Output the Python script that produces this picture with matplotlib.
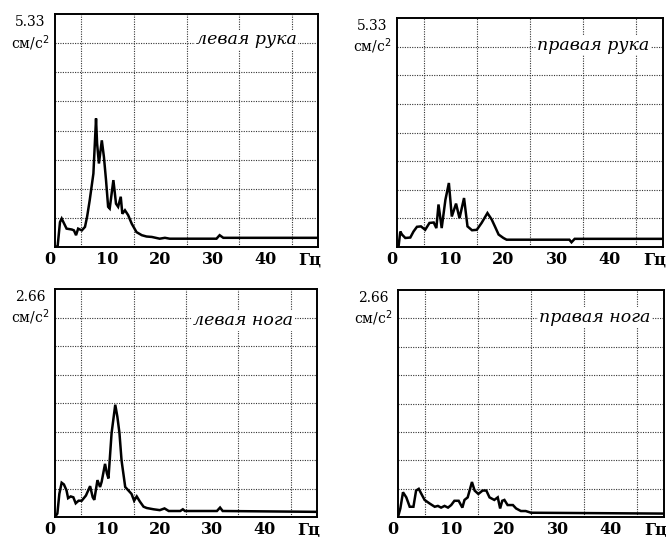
"""
Спектры тремора: левая/правая рука и нога.
"""
import matplotlib
matplotlib.use("Agg")
import matplotlib.pyplot as plt
import numpy as np

# --- данные (Гц, см/с^2) ---
left_arm_f = [0, 0.5, 0.95, 1.27, 2.2, 3.2, 3.6, 4.0, 4.4, 5.1, 5.7, 6.1, 6.6, 7.3, 7.8,
              8.0, 8.35, 8.9, 9.3, 9.7, 10.1, 10.4, 11.1, 11.6, 12.0, 12.5, 12.8, 13.3,
              13.9, 14.6, 15.5, 16.5, 17.4, 18.4, 19.9, 20.9, 21.8, 30.7, 31.3, 32.0, 50]
left_arm_a = [0.0, 0.02, 0.57, 0.65, 0.42, 0.40, 0.38, 0.27, 0.42, 0.38, 0.46, 0.69, 1.07,
              1.68, 2.94, 2.37, 1.91, 2.44, 2.06, 1.53, 0.92, 0.88, 1.53, 0.99, 0.92, 1.15,
              0.76, 0.84, 0.73, 0.53, 0.34, 0.27, 0.24, 0.23, 0.19, 0.21, 0.19, 0.19, 0.27,
              0.21, 0.21]

right_arm_f = [0, 0.3, 0.62, 0.94, 1.56, 2.5, 3.1, 3.75, 4.5, 5.3, 6.1, 6.9, 7.4, 7.8,
               8.4, 9.1, 9.75, 10.3, 11.1, 11.75, 12.6, 13.25, 14.1, 15.0, 15.9, 17.0,
               17.8, 18.4, 19.1, 20.0, 20.6, 32.4, 32.8, 33.4, 50]
right_arm_a = [0.0, 0.02, 0.36, 0.29, 0.21, 0.22, 0.36, 0.47, 0.48, 0.40, 0.56, 0.57, 0.44,
               0.99, 0.44, 1.10, 1.49, 0.71, 1.01, 0.67, 1.14, 0.48, 0.39, 0.40, 0.56, 0.79,
               0.64, 0.48, 0.29, 0.21, 0.17, 0.17, 0.11, 0.19, 0.19]

left_leg_f = [0, 0.45, 0.83, 1.27, 1.7, 2.2, 2.5, 3.0, 3.5, 3.95, 4.5, 5.1, 5.9, 6.7, 7.2,
              7.5, 8.1, 8.6, 8.9, 9.55, 9.9, 10.2, 10.8, 11.5, 11.9, 12.3, 12.7, 13.4,
              14.0, 14.6, 15.1, 15.6, 16.2, 16.9, 17.5, 18.8, 20.0, 20.9, 21.7, 23.9,
              24.4, 24.8, 30.9, 31.5, 32.0, 50]
left_leg_a = [0.0, 0.04, 0.27, 0.40, 0.38, 0.31, 0.22, 0.24, 0.23, 0.16, 0.19, 0.19, 0.25,
              0.36, 0.23, 0.20, 0.43, 0.35, 0.41, 0.62, 0.51, 0.45, 0.98, 1.31, 1.17, 0.98,
              0.66, 0.35, 0.31, 0.27, 0.19, 0.24, 0.18, 0.12, 0.105, 0.09, 0.08, 0.10, 0.07,
              0.07, 0.09, 0.07, 0.07, 0.11, 0.07, 0.06]

right_leg_f = [0, 0.44, 0.94, 1.56, 2.2, 2.9, 3.4, 3.9, 4.4, 5.0, 5.9, 6.9, 7.5, 8.1, 8.75,
               9.4, 10.0, 10.6, 11.4, 12.1, 12.5, 13.1, 13.9, 14.4, 15.1, 15.9, 16.6, 17.2,
               18.1, 18.75, 19.2, 19.6, 20.0, 20.6, 21.6, 22.2, 23.1, 24.0, 25.0, 50]
right_leg_a = [0.0, 0.10, 0.29, 0.23, 0.12, 0.12, 0.31, 0.33, 0.27, 0.20, 0.16, 0.12, 0.13,
               0.11, 0.13, 0.11, 0.14, 0.19, 0.19, 0.11, 0.20, 0.23, 0.41, 0.31, 0.27, 0.31,
               0.31, 0.23, 0.20, 0.23, 0.10, 0.19, 0.20, 0.14, 0.14, 0.10, 0.07, 0.07, 0.05,
               0.04]

titles = ["левая рука", "правая рука", "левая нога", "правая нога"]
y_max = ["5.33", "5.33", "2.66", "2.66"]
unit = "см/с$^2$"
x_ticks = [0, 10, 20, 30, 40]
x_unit = "Гц"

W, H = 666, 537
# рамки панелей в пикселях: left, top, right, bottom
boxes = [(55, 14, 318, 247), (397, 18, 663, 247), (55, 289, 317, 517), (398, 290, 664, 517)]
title_x = [0.92, 0.95, 0.91, 0.95]
title_y = [0.89, 0.88, 0.86, 0.88]

series = [(left_arm_f, left_arm_a), (right_arm_f, right_arm_a),
          (left_leg_f, left_leg_a), (right_leg_f, right_leg_a)]

fig = plt.figure(figsize=(W / 100, H / 100), dpi=100)
serif = "DejaVu Serif"

for i, ((f, a), (l, t, r, b)) in enumerate(zip(series, boxes)):
    ax = fig.add_axes([l / W, 1 - b / H, (r - l) / W, (b - t) / H])
    ymax = float(y_max[i])
    ax.plot(f, a, color="black", linewidth=1.8, solid_joinstyle="miter")
    ax.set_xlim(0, 50)
    ax.set_ylim(0, ymax)

    # пунктирная сетка: каждые 5 Гц и 1/8 шкалы
    ax.set_xticks(np.arange(5, 50, 5), minor=True)
    ax.set_yticks(np.linspace(0, ymax, 9)[1:-1], minor=True)
    ax.set_yticks([])
    ax.grid(which="minor", color="#333333", linestyle=(0, (1, 1.2)), linewidth=0.8)
    ax.tick_params(which="both", length=0)

    ax.set_xticks(x_ticks + [48.5], [str(v) for v in x_ticks] + [x_unit])
    for lab in ax.get_xticklabels():
        lab.set_fontfamily(serif)
        lab.set_fontweight("bold")
        lab.set_fontsize(11.5)
    ax.get_xticklabels()[0].set_horizontalalignment("right")
    ax.tick_params(axis="x", pad=3)

    for s in ax.spines.values():
        s.set_linewidth(1.4)
        s.set_color("black")

    ax.text(-0.093, 0.965, y_max[i], transform=ax.transAxes, ha="center", va="center",
            fontfamily=serif, fontsize=10)
    ax.text(-0.093, 0.875, unit, transform=ax.transAxes, ha="center", va="center",
            fontfamily=serif, fontsize=10)
    ax.text(title_x[i], title_y[i], titles[i], transform=ax.transAxes, ha="right",
            va="center", fontfamily=serif, fontstyle="italic", fontsize=12.5,
            bbox=dict(facecolor="white", edgecolor="none", pad=1))

fig.savefig("out.png", dpi=100)
